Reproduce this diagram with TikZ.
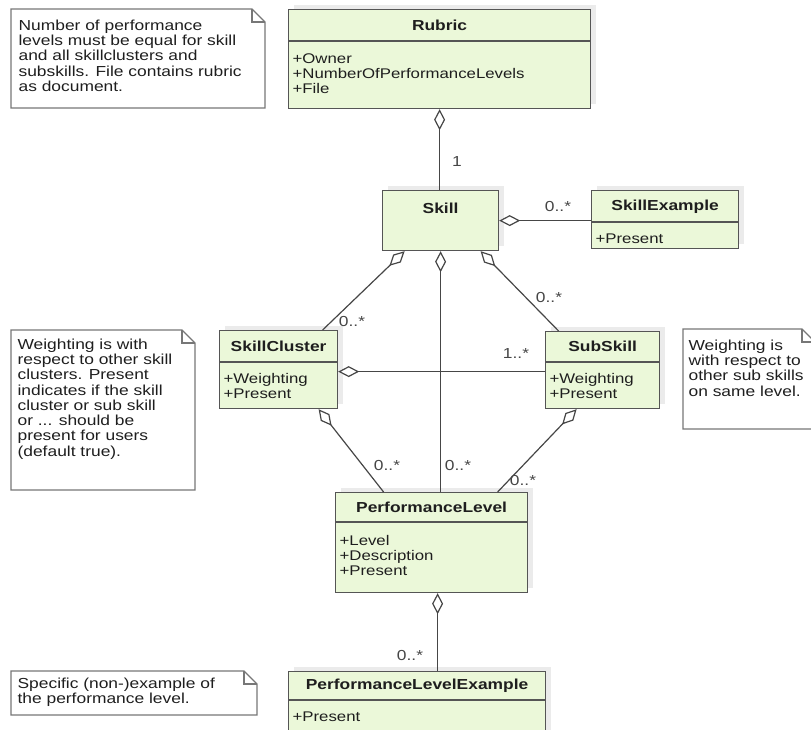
\documentclass[tikz,border=0pt]{standalone}
\usepackage{fontspec}
\setmainfont[FakeStretch=1.2]{Liberation Sans}
\usetikzlibrary{arrows.meta,shadows}

\definecolor{classfill}{RGB}{235,248,217}
\definecolor{classdraw}{RGB}{85,85,85}
\definecolor{textdark}{RGB}{30,30,30}
\definecolor{multgray}{RGB}{70,70,70}

\tikzset{every picture/.style={line width=1.2pt}}
\tikzset{
  classbox/.style={draw=classdraw, fill=classfill, anchor=north west, inner sep=0pt,
    drop shadow={shadow xshift=5pt, shadow yshift=5pt, fill=black!8, opacity=1}},
  classline/.style={draw=classdraw},
  classname/.style={font={\fontsize{14.5}{15}\selectfont\bfseries}, text=textdark, inner sep=0pt},
  classattr/.style={anchor=north west, align=left, text=textdark, inner sep=0pt},
  noteline/.style={draw=classdraw!80, line join=miter},
  notetext/.style={anchor=north west, align=left, text=textdark, inner sep=0pt,
    font={\fontsize{14.5}{15.3}\selectfont}},
  aggregation/.style={draw=multgray, line width=1.2pt, {Diamond[length=21pt, width=11pt, fill=white, line join=miter]}-},
  mult/.style={font={\fontsize{14.5}{15}\selectfont}, text=multgray, inner sep=0pt}
}

\begin{document}
\begin{tikzpicture}[x=1pt,y=1pt,yscale=-1,font={\fontsize{14}{15}\selectfont}]
\useasboundingbox (0,0) rectangle (811,729);
\clip (0,0) rectangle (811,729);

%Shape: Note [rubric]
\draw [noteline] (11,9) -- (252,9) -- (265,22) -- (265,108) -- (11,108) -- cycle ;
\draw [noteline] (252,9) -- (252,22) -- (265,22) ;
% Text Node
\draw (18,19) node [notetext] (rubric-note) {Number of performance\\levels must be equal for skill\\and all skillclusters and\\subskills. File contains rubric\\as document.};

%Shape: Note [skillcluster]
\draw [noteline] (11,330) -- (182,330) -- (195,343) -- (195,490) -- (11,490) -- cycle ;
\draw [noteline] (182,330) -- (182,343) -- (195,343) ;
% Text Node
\draw (17,338) node [notetext] (cluster-note) {Weighting is with\\respect to other skill\\clusters. Present\\indicates if the skill\\cluster or sub skill\\or ... should be\\present for users\\(default true).};

%Shape: Note [subskill]
\draw [noteline] (683,329) -- (802,329) -- (815,342) -- (815,429) -- (683,429) -- cycle ;
\draw [noteline] (802,329) -- (802,342) -- (815,342) ;
% Text Node
\draw (688,339) node [notetext] (subskill-note) {Weighting is\\with respect to\\other sub skills\\on same level.};

%Shape: Note [example]
\draw [noteline] (11,671) -- (244,671) -- (257,684) -- (257,715) -- (11,715) -- cycle ;
\draw [noteline] (244,671) -- (244,684) -- (257,684) ;
% Text Node
\draw (17,677) node [notetext] (example-note) {Specific (non-)example of\\the performance level.};

%Class: Rubric
\node [classbox, minimum width=302, minimum height=99] (rubric) at (288,9) {};
\draw [classline] ([yshift=32]rubric.north west) -- ([yshift=32]rubric.north east) ;
\draw ([yshift=16]rubric.north) node [classname] (rubric-name) {Rubric};
\draw ([xshift=4,yshift=44]rubric.north west) node [classattr] (rubric-attr) {+Owner\\+NumberOfPerformanceLevels\\+File};

%Class: Skill
\node [classbox, minimum width=116, minimum height=60] (skill) at (382,190) {};
\draw ([yshift=18]skill.north) node [classname] (skill-name) {Skill};

%Class: SkillExample
\node [classbox, minimum width=147, minimum height=58] (skillexample) at (591,190) {};
\draw [classline] ([yshift=32]skillexample.north west) -- ([yshift=32]skillexample.north east) ;
\draw ([yshift=17]skillexample.north) node [classname] (skillexample-name) {SkillExample};
\draw ([xshift=4,yshift=43]skillexample.north west) node [classattr] (skillexample-attr) {+Present};

%Class: SkillCluster
\node [classbox, minimum width=118, minimum height=78] (skillcluster) at (219,330) {};
\draw [classline] ([yshift=32]skillcluster.north west) -- ([yshift=32]skillcluster.north east) ;
\draw ([yshift=16]skillcluster.north) node [classname] (skillcluster-name) {SkillCluster};
\draw ([xshift=4,yshift=43]skillcluster.north west) node [classattr] (skillcluster-attr) {+Weighting\\+Present};

%Class: SubSkill
\node [classbox, minimum width=114, minimum height=77] (subskill) at (545,331) {};
\draw [classline] ([yshift=31]subskill.north west) -- ([yshift=31]subskill.north east) ;
\draw ([yshift=15]subskill.north) node [classname] (subskill-name) {SubSkill};
\draw ([xshift=4,yshift=42]subskill.north west) node [classattr] (subskill-attr) {+Weighting\\+Present};

%Class: PerformanceLevel
\node [classbox, minimum width=192, minimum height=100] (perflevel) at (335,492) {};
\draw [classline] ([yshift=30]perflevel.north west) -- ([yshift=30]perflevel.north east) ;
\draw ([yshift=15]perflevel.north) node [classname] (perflevel-name) {PerformanceLevel};
\draw ([xshift=4,yshift=43]perflevel.north west) node [classattr] (perflevel-attr) {+Level\\+Description\\+Present};

%Class: PerformanceLevelExample
\node [classbox, minimum width=257, minimum height=80] (perflevelexample) at (288,671) {};
\draw [classline] ([yshift=29]perflevelexample.north west) -- ([yshift=29]perflevelexample.north east) ;
\draw ([yshift=15]perflevelexample.north) node [classname] (perflevelexample-name) {PerformanceLevelExample};
\draw ([xshift=4,yshift=40]perflevelexample.north west) node [classattr] (perflevelexample-attr) {+Present};

%Aggregation Lines
\draw [aggregation] (rubric.south) -- (rubric.south |- skill.north) ;
\draw [aggregation] (skill.east) -- (skill.east -| skillexample.west) ;
\draw [aggregation] ([xshift=-36]skill.south) -- ([xshift=44]skillcluster.north) ;
\draw [aggregation] (skill.south) -- (skill.south |- perflevel.north) ;
\draw [aggregation] ([xshift=40]skill.south) -- ([xshift=-44]subskill.north) ;
\draw [aggregation] ([yshift=2]skillcluster.east) -- ([yshift=2]skillcluster.east -| subskill.west) ;
\draw [aggregation] ([xshift=40]skillcluster.south) -- ([xshift=-48]perflevel.north) ;
\draw [aggregation] ([xshift=-26]subskill.south) -- ([xshift=66]perflevel.north) ;
\draw [aggregation] ([xshift=6]perflevel.south) -- ([xshift=6]perflevel.south |- perflevelexample.north) ;

% Text Node
\draw (457,162) node [mult] (mult-skill) {1};
\draw (558,207) node [mult] (mult-skillexample) {0..*};
\draw (352,322) node [mult] (mult-skillcluster) {0..*};
\draw (549,298) node [mult] (mult-subskill) {0..*};
\draw (516,354) node [mult] (mult-cluster-sub) {1..*};
\draw (387,465) node [mult] (mult-cluster-level) {0..*};
\draw (458,465) node [mult] (mult-skill-level) {0..*};
\draw (523,480) node [mult] (mult-sub-level) {0..*};
\draw (410,655) node [mult] (mult-levelexample) {0..*};

\end{tikzpicture}
\end{document}
